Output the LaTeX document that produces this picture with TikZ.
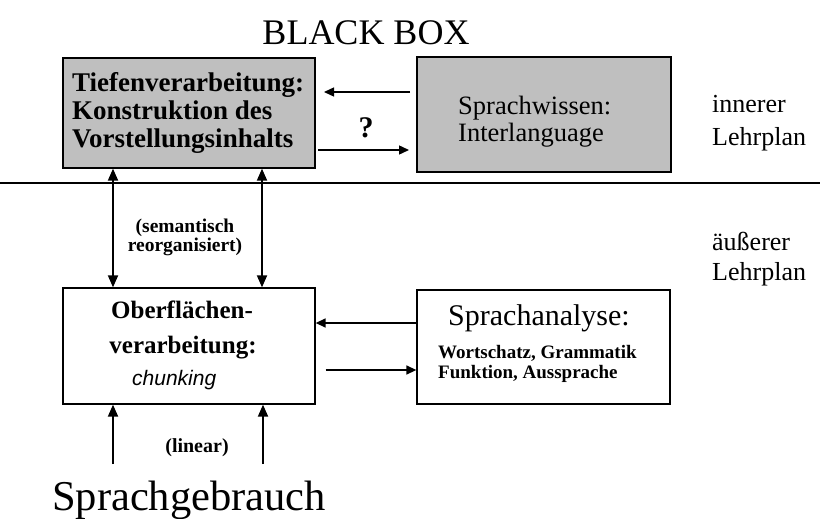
\documentclass[tikz,border=0pt]{standalone}
\usepackage{fontspec}
\setmainfont{Liberation Serif}
\setsansfont{Liberation Sans}
\usetikzlibrary{arrows.meta}
\newcommand{\fs}[1]{\fontsize{#1}{#1}\selectfont}
\begin{document}
\begin{tikzpicture}[x=1pt,y=-1pt,
  box/.style={draw=black,line width=1.3pt,minimum width=252pt,minimum height=112pt,inner sep=0pt},
  graybox/.style={box,fill=gray!50},
  txt/.style={inner sep=0pt,anchor=base},
  ltxt/.style={inner sep=0pt,anchor=base west},
  conn/.style={line width=1.4pt,-{Triangle[length=10pt,width=9pt]}},
  dconn/.style={line width=1.8pt,{Triangle[length=12pt,width=10pt]}-{Triangle[length=12pt,width=10pt]}},
  uconn/.style={line width=1.8pt,-{Triangle[length=12pt,width=10pt]}}]
\useasboundingbox (0,0) rectangle (820,519);

% title
\node[txt,font=\fs{36}] (title) at (366,45) {BLACK BOX};

% inner layer boxes
\node[graybox,minimum height=110pt] (tief) at (189,113) {};
\node[ltxt,font=\bfseries\fs{27}] (tief1) at (72,92) {Tiefenverarbeitung:};
\node[ltxt,font=\bfseries\fs{27}] (tief2) at (72,120) {Konstruktion des};
\node[ltxt,font=\bfseries\fs{27}] (tief3) at (72,147) {Vorstellungsinhalts};
\node[graybox,minimum width=254pt,minimum height=115pt] (wissen) at (544,114.5) {};
\node[ltxt,font=\fs{26.5}] (wissen1) at (458,114) {Sprachwissen:};
\node[ltxt,font=\fs{26.5}] (wissen2) at (458,142) {Interlanguage};

% arrows between the gray boxes
\coordinate (wA) at (410,92);
\coordinate (tA) at (324,92);
\coordinate (tB) at (318,150);
\coordinate (wB) at (409,150);
\draw[conn] (wA) -- (tA);
\draw[conn] (tB) -- (wB);
\node[txt,font=\bfseries\fs{30}] (q) at (366,137) {?};

% separating line and side labels
\coordinate (sepL) at (0,183);
\coordinate (sepR) at (820,183);
\draw[line width=1.2pt] (sepL) -- (sepR);
\node[ltxt,font=\fs{26}] (inner1) at (712,113) {innerer};
\node[ltxt,font=\fs{26}] (inner2) at (712,145) {Lehrplan};
\node[ltxt,font=\fs{26}] (outer1) at (712,250) {äußerer};
\node[ltxt,font=\fs{26}] (outer2) at (712,280) {Lehrplan};

% lower boxes
\node[box,minimum height=116pt] (ober) at (189,346) {};
\node[txt,font=\bfseries\fs{25}] (ober1) at (182,318) {Oberflächen-};
\node[txt,font=\bfseries\fs{25}] (ober2) at (183,353) {verarbeitung:};
\node[ltxt,font=\sffamily\itshape\fs{21}] (chunk) at (132,385) {chunking};
\node[box,minimum width=253pt,minimum height=114pt] (analyse) at (543.5,347) {};
\node[ltxt,font=\fs{30}] (analyse1) at (448,325) {Sprachanalyse:};
\node[ltxt,font=\bfseries\fs{19}] (analyse2) at (438,358) {Wortschatz, Grammatik};
\node[ltxt,font=\bfseries\fs{19}] (analyse3) at (438,378) {Funktion, Aussprache};

\draw[conn] (analyse.west |- 0,323) -- (ober.east |- 0,323);
\draw[conn] ([xshift=10pt]ober.east |- 0,370) -- (analyse.west |- 0,370);

% vertical links
\draw[dconn] (tief.south -| 113,0) -- (ober.north -| 113,0);
\draw[dconn] (tief.south -| 262,0) -- (ober.north -| 262,0);
\node[txt,font=\bfseries\fs{19.5}] (sem1) at (185,232) {(semantisch};
\node[txt,font=\bfseries\fs{19.5}] (sem2) at (185,251) {reorganisiert)};

% bottom
\node[txt,font=\fs{42.5}] (gebrauch) at (189,510) {Sprachgebrauch};
\coordinate (g1) at (113,464);
\coordinate (g2) at (263,464);
\draw[uconn] (g1) -- (ober.south -| g1);
\draw[uconn] (g2) -- (ober.south -| g2);
\node[txt,font=\bfseries\fs{20}] (lin) at (197,452) {(linear)};
\end{tikzpicture}
\end{document}
